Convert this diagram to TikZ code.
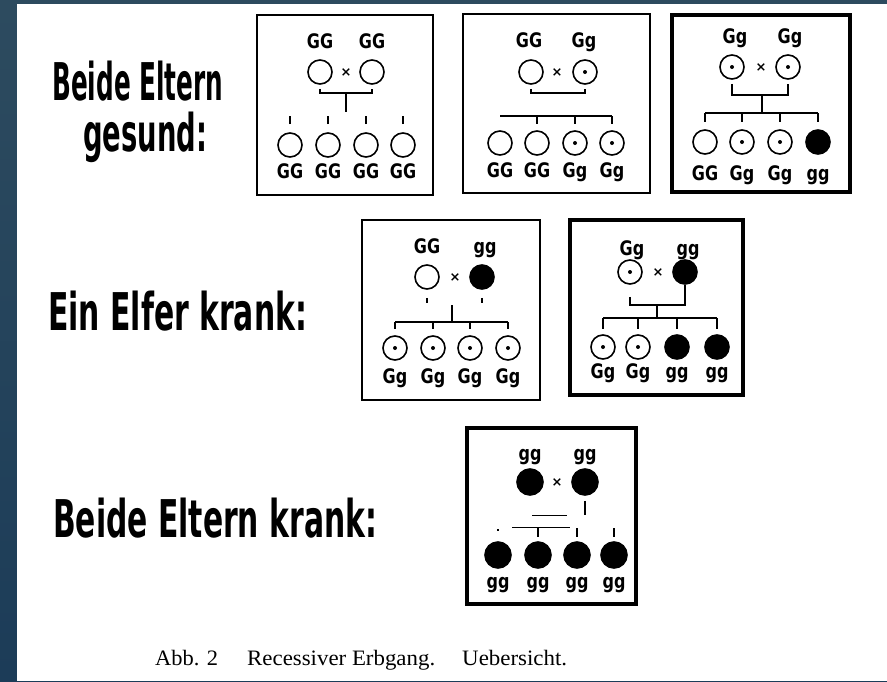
\documentclass[tikz,border=0pt]{standalone}
\usepackage{graphicx}
\usepackage{fontspec}
\setmainfont{DejaVu Sans}
\newfontfamily\capf{Liberation Serif}
\newcommand\glf{\fontsize{20}{20}\selectfont\bfseries}
\newcommand\gt[1]{\scalebox{0.8}[1]{#1}}
\newcommand\biglab[2]{\resizebox{#1}{\height}{\fontsize{52}{52}\selectfont\bfseries #2}}
\newcommand\caplab[2]{\resizebox{#1}{\height}{\capf\fontsize{22}{22}\selectfont #2}}
\definecolor{bgtop}{RGB}{45,75,95}
\definecolor{bgbot}{RGB}{28,60,88}
\tikzset{
  opn/.style={circle, draw, line width=1.6pt, minimum size=24pt, inner sep=0pt},
  fil/.style={opn, fill=black},
  bigfil/.style={opn, fill=black, minimum size=26pt},
  dotc/.style={opn, path picture={\fill (path picture bounding box.center) circle (2pt);}},
  gl/.style={font=\glf, anchor=base, inner sep=0pt},
  xm/.style={font=\fontsize{13}{13}\selectfont\bfseries, inner sep=0pt},
  conn/.style={line width=1.5pt},
  box/.style={draw, line width=2pt},
  boxk/.style={draw, line width=4pt},
  lab/.style={anchor=base west, inner sep=0pt}
}
\begin{document}
\begin{tikzpicture}[x=1pt,y=-1pt]
\useasboundingbox (0,0) rectangle (887,681);
\shade[top color=bgtop, bottom color=bgbot] (0,0) rectangle (887,681);
\fill[white] (17,4) rectangle (887,681);

% big labels
\node[lab] (l1a) at (52,100) {\biglab{171pt}{Beide Eltern}};
\node[lab] (l1b) at (83,151) {\biglab{124pt}{gesund:}};
\node[lab] (l2) at (48,330) {\biglab{259pt}{Ein Elfer krank:}};
\node[lab] (l3) at (53,537) {\biglab{324pt}{Beide Eltern krank:}};

% caption
\node[lab] (k1) at (155,665) {\caplab{63pt}{Abb. 2}};
\node[lab] (k2) at (247,665) {\caplab{188pt}{Recessiver Erbgang.}};
\node[lab] (k3) at (462,665) {\caplab{105pt}{Uebersicht.}};

% ---------- Box 1
\draw[box] (257,15) rectangle (433,195);
\node[gl] (t11) at (320,48) {\gt{GG}};
\node[gl] (t12) at (372,48) {\gt{GG}};
\node[opn] (p11) at (320,72) {};
\node[opn] (p12) at (372,72) {};
\node[xm] (x1) at (346,73) {×};
\coordinate (b1) at (346,93);
\coordinate (v1) at (346,112);
\draw[conn] ([yshift=-4pt]p11.south) |- (b1) -| ([yshift=-4pt]p12.south);
\draw[conn] (b1) -- (v1);
\foreach \x/\n/\s/\t in {290/1/opn/GG, 328/2/opn/GG, 366/3/opn/GG, 403/4/opn/GG}{
  \node[\s] (c1\n) at (\x,145) {};
  \node[gl] (d1\n) at (\x,178) {\gt{\t}};
  \draw[conn] ([yshift=8pt]c1\n.north) -- ([yshift=16pt]c1\n.north);
}

% ---------- Box 2
\draw[box] (463,14) rectangle (650,193);
\node[gl] (t21) at (529,47) {\gt{GG}};
\node[gl] (t22) at (584,47) {\gt{Gg}};
\node[opn] (p21) at (531,72) {};
\node[dotc] (p22) at (585,72) {};
\node[xm] (x2) at (557,73) {×};
\coordinate (b2) at (558,93);
\draw[conn] ([yshift=-4pt]p21.south) |- (b2) -| ([yshift=-4pt]p22.south);
\coordinate (h2) at (556,116);
\foreach \x/\n/\s/\t in {500/1/opn/GG, 537/2/opn/GG, 575/3/dotc/Gg, 612/4/dotc/Gg}{
  \node[\s] (c2\n) at (\x,143) {};
  \node[gl] (d2\n) at (\x,177) {\gt{\t}};
}
\draw[conn] (c21.north |- h2) -- (c24.north |- h2);
\foreach \n in {2,3,4}{\draw[conn] (c2\n.north |- h2) -- ([yshift=6pt]c2\n.north);}

% ---------- Box 3
\draw[boxk] (672,15) rectangle (850,192);
\node[gl] (t31) at (735,43) {\gt{Gg}};
\node[gl] (t32) at (790,43) {\gt{Gg}};
\node[dotc] (p31) at (732,67) {};
\node[dotc] (p32) at (788,67) {};
\node[xm] (x3) at (761,68) {×};
\coordinate (b3) at (762,95);
\coordinate (h3) at (762,113);
\draw[conn] ([yshift=-4pt]p31.south) |- (b3) -| ([yshift=-4pt]p32.south);
\draw[conn] (b3) -- (h3);
\foreach \x/\n/\s/\t in {705/1/opn/GG, 742/2/dotc/Gg, 780/3/dotc/Gg, 818/4/fil/gg}{
  \node[\s] (c3\n) at (\x,142) {};
  \node[gl] (d3\n) at (\x,180) {\gt{\t}};
  \draw[conn] (c3\n.north |- h3) -- ([yshift=7pt]c3\n.north);
}
\draw[conn] (c31.north |- h3) -- (c34.north |- h3);

% ---------- Box 4
\draw[box] (362,220) rectangle (540,400);
\node[gl] (t41) at (427,253) {\gt{GG}};
\node[gl] (t42) at (485,253) {\gt{gg}};
\node[opn] (p41) at (427,277) {};
\node[fil] (p42) at (482,277) {};
\node[xm] (x4) at (455,278) {×};
\draw[conn] ([yshift=-8pt]p41.south) -- ([yshift=-13pt]p41.south);
\draw[conn] ([yshift=-8pt]p42.south) -- ([yshift=-13pt]p42.south);
\coordinate (b4) at (452,305);
\coordinate (h4) at (452,322);
\draw[conn] (b4) -- (h4);
\foreach \x/\n/\s/\t in {395/1/dotc/Gg, 433/2/dotc/Gg, 470/3/dotc/Gg, 508/4/dotc/Gg}{
  \node[\s] (c4\n) at (\x,348) {};
  \node[gl] (d4\n) at (\x,383) {\gt{\t}};
  \draw[conn] (c4\n.north |- h4) -- ([yshift=6pt]c4\n.north);
}
\draw[conn] (c41.north |- h4) -- (c44.north |- h4);

% ---------- Box 5
\draw[boxk] (570,220) rectangle (743,395);
\node[gl] (t51) at (632,255) {\gt{Gg}};
\node[gl] (t52) at (688,255) {\gt{gg}};
\node[dotc] (p51) at (630,272) {};
\node[fil] (p52) at (685,272) {};
\node[xm] (x5) at (658,273) {×};
\coordinate (b5) at (657,305);
\coordinate (h5) at (657,318);
\draw[conn] ([yshift=-12pt]p51.south) |- (b5) -| (p52.south);
\draw[conn] (b5) -- (h5);
\foreach \x/\n/\s/\t in {603/1/dotc/Gg, 638/2/dotc/Gg, 677/3/fil/gg, 717/4/fil/gg}{
  \node[\s] (c5\n) at (\x,347) {};
  \node[gl] (d5\n) at (\x,378) {\gt{\t}};
  \draw[conn] (c5\n.north |- h5) -- ([yshift=5pt]c5\n.north);
}
\draw[conn] (c51.north |- h5) -- (c54.north |- h5);

% ---------- Box 6
\draw[boxk] (467,428) rectangle (636,604);
\node[gl] (t61) at (530,460) {\gt{gg}};
\node[gl] (t62) at (585,460) {\gt{gg}};
\node[bigfil] (p61) at (530,482) {};
\node[bigfil] (p62) at (585,482) {};
\node[xm] (x6) at (557,483) {×};
\coordinate (e6) at (585,515);
\coordinate (b6a) at (532,515);
\coordinate (b6b) at (567,515);
\draw[conn] ([yshift=-5pt]p62.south) -- (e6);
\draw[line width=1pt] (b6a) -- (b6b);
\coordinate (h6a) at (512,527);
\coordinate (h6b) at (570,527);
\draw[line width=1pt] (h6a) -- (h6b);
\foreach \x/\n in {498/1, 538/2, 577/3, 614/4}{
  \node[bigfil] (c6\n) at (\x,555) {};
  \node[gl] (d6\n) at (\x,588) {\gt{gg}};
}
\draw[conn] ([yshift=12pt]c61.north) -- ([yshift=10pt]c61.north);
\foreach \n in {2,3,4}{\draw[conn] ([yshift=13pt]c6\n.north) -- ([yshift=4pt]c6\n.north);}
\end{tikzpicture}
\end{document}
